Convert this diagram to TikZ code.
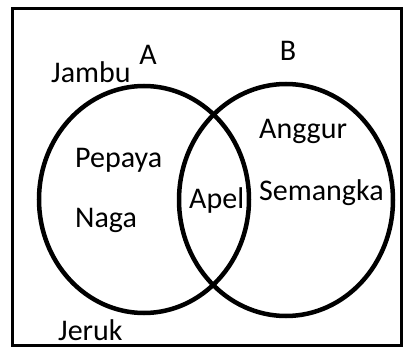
\documentclass[tikz,border=0pt]{standalone}
\usepackage{fontspec}
\setmainfont{Carlito}
\usetikzlibrary{shapes.geometric, positioning}

\tikzset{
  fruit/.style={anchor=base west, inner sep=0pt, font=\fontsize{30}{34}\selectfont},
  setname/.style={anchor=center, inner sep=0pt, font=\fontsize{30}{34}\selectfont},
  venn/.style={ellipse, draw, line width=4.5pt, outer sep=0pt, inner sep=0pt}
}

\begin{document}
\begin{tikzpicture}[x=1pt, y=-1pt]
		\useasboundingbox (0,0) rectangle (408,356);
		% Universe
		\node[draw, line width=3.5pt, minimum width=389pt, minimum height=337pt, inner sep=0pt] (S) at (207,177) {};
		
		% Sets
		\node[venn, minimum width=210pt, minimum height=227pt] (setA) at (144,199.5) {};
		\node[venn, minimum width=214pt, minimum height=232pt] (setB) at (286,200) {};
		\node[setname] (A) at (148,55) {A};
		\node[setname] (B) at (288,51) {B};
		
		% Elements
		\node[fruit] (jambu) at (51,82) {Jambu};
		\node[fruit] (pepaya) at (75,167) {Pepaya};
		\node[fruit] (naga) at (75,227) {Naga};
		\node[fruit] (apel) at (189,208) {Apel};
		\node[fruit] (anggur) at (259,139) {Anggur};
		\node[fruit] (semangka) at (259,200) {Semangka};
		\node[fruit] (jeruk) at (58,340) {Jeruk};
	\end{tikzpicture}
\end{document}
